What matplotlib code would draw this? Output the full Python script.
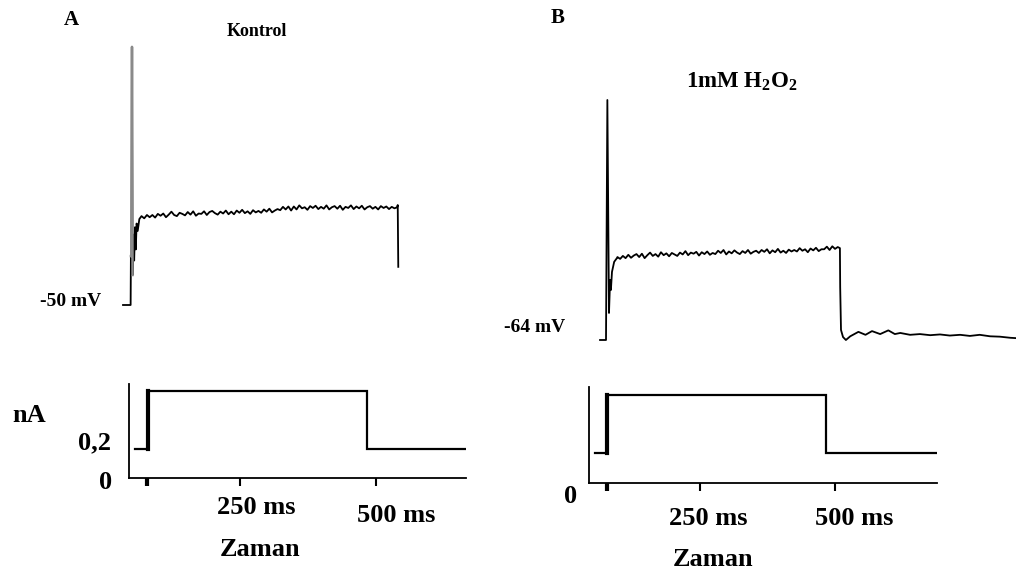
import numpy as np
import matplotlib
matplotlib.use("Agg")
import matplotlib.pyplot as plt
from matplotlib import transforms

plt.rcParams['font.family'] = 'Liberation Serif'
plt.rcParams['font.weight'] = 'bold'
plt.rcParams['mathtext.fontset'] = 'custom'
plt.rcParams['mathtext.rm'] = 'Liberation Serif:bold'
plt.rcParams['mathtext.it'] = 'Liberation Serif:bold'
plt.rcParams['mathtext.bf'] = 'Liberation Serif:bold'

# ---- voltage traces (ms, mV) ----
# A: control, resting -50 mV
a_onset_t = [0, 14, 14.5, 15.5, 16.5, 17.5, 19, 20.5, 22, 23.5, 25, 27, 30]
a_onset_v = [-50, -50, -36.8, -36.8, 19.7, -41.9, -31, -38, -29, -35, -28, -30, -26.8]
a_plat_t = list(range(34, 505, 5))
a_plat_v = [-26.0, -26.6, -25.7, -26.3, -25.7, -26.4, -25.4, -25.9, -25.3, -26.3,
            -25.6, -24.8, -25.7, -26.0, -25.1, -25.4, -25.8, -24.9, -25.6, -24.7,
            -25.9, -25.3, -25.4, -24.7, -25.7, -24.9, -24.6, -25.2, -25.6, -24.8,
            -25.3, -24.5, -25.5, -24.8, -25.5, -24.5, -25.1, -24.3, -25.2, -24.7,
            -25.4, -24.4, -25.0, -24.6, -25.1, -24.2, -24.8, -24.0, -25.0, -24.5,
            -24.1, -24.4, -23.5, -24.2, -23.4, -24.5, -23.4, -24.2, -23.1, -23.9,
            -23.6, -24.3, -23.3, -23.8, -23.2, -24.1, -23.5, -24.0, -23.1, -24.2,
            -23.6, -23.3, -24.0, -23.2, -24.3, -23.5, -23.8, -23.1, -24.1, -23.4,
            -23.9, -23.2, -24.2, -23.6, -23.3, -24.0, -23.5, -24.2, -23.3, -23.8,
            -23.4, -24.1, -23.5, -23.9, -23.6]
a_end_t = [505, 506]
a_end_v = [-23.0, -39.7]

# B: 1 mM H2O2, resting -64 mV
b_onset_t = [0, 11, 13.5, 16.5, 18.5, 20, 22, 26, 31]
b_onset_v = [-64, -64, 0.8, -56.7, -47.8, -50.5, -45.6, -42.9, -41.9]
b_plat_t = list(range(32, 441, 5))
b_plat_v = [-41.6, -42.1, -41.3, -41.9, -41.0, -41.8, -41.2, -40.8, -41.6, -40.7,
            -41.9, -41.1, -40.4, -41.3, -40.8, -41.5, -40.3, -41.1, -40.6, -41.4,
            -40.5, -40.9, -41.3, -40.4, -40.9, -40.0, -41.1, -40.4, -40.7, -40.2,
            -41.2, -40.3, -40.8, -40.1, -41.0, -40.5, -40.8, -39.9, -40.5, -39.7,
            -40.9, -40.1, -40.6, -39.8, -40.4, -40.8, -40.0, -40.5, -39.7, -40.7,
            -40.2, -39.9, -40.5, -39.7, -40.2, -39.5, -40.6, -39.8, -40.3, -39.4,
            -40.4, -39.9, -40.5, -39.6, -40.1, -39.7, -40.1, -39.2, -39.9, -39.5,
            -40.3, -39.3, -39.8, -39.1, -40.0, -39.5, -39.5, -38.8, -39.7, -38.7,
            -39.4, -38.9]
b_tail_t = [441, 441.5, 443, 446.7, 452, 460, 475, 488, 500, 515, 530, 542, 552, 570,
            588, 607, 625, 643, 662, 680, 698, 717, 735, 754, 765]
b_tail_v = [-39.2, -49.7, -61.3, -63.2, -64.0, -63.0, -61.8, -62.6, -61.6, -62.4, -61.4,
            -62.4, -62.1, -62.6, -62.4, -62.7, -62.5, -62.8, -62.6, -62.9, -62.6,
            -63.0, -63.1, -63.4, -63.5]

# ---- current step protocol (ms, nA) ----
a_step_t = [57, 80, 80, 483, 483, 665]
a_step_i = [0.2, 0.2, 0.6, 0.6, 0.2, 0.2]
b_step_t = [56, 78, 78, 483, 483, 689]
b_step_i = [0.2, 0.2, 0.59, 0.59, 0.2, 0.2]

a_ticks = [79, 250, 500]
b_ticks = [78, 250, 500]
tick_labels = ['', '250 ms', '500 ms']

W, H = 1016, 578
fig = plt.figure(figsize=(W / 100, H / 100), dpi=100)


def px_axes(x0, y0, x1, y1):
    return fig.add_axes([x0 / W, 1 - y1 / H, (x1 - x0) / W, (y1 - y0) / H])


# top traces
axA = px_axes(100, 30, 500, 330)
axA.plot(a_onset_t + a_plat_t + a_end_t, a_onset_v + a_plat_v + a_end_v,
         color='black', lw=1.3)
axA.plot(a_onset_t[2:6], a_onset_v[2:6], color='#8a8a8a', lw=1.8)
axA.set_xlim(-42.3, 693)
axA.set_ylim(-56.75, 24.25)
axA.axis('off')

axB = px_axes(580, 60, 1016, 360)
axB.plot(b_onset_t + b_plat_t + b_tail_t, b_onset_v + b_plat_v + b_tail_v,
         color='black', lw=1.3)
axB.set_xlim(-36.8, 764.7)
axB.set_ylim(-69.4, 11.6)
axB.axis('off')


def step_panel(ax, t, i, ticks, xlim, ylim, label_dx, label_y):
    ax.plot(t, i, color='black', lw=1.6, solid_joinstyle='miter')
    ax.plot(t[1:3], i[1:3], color='black', lw=3.0)
    ax.set_xlim(*xlim)
    ax.set_ylim(*ylim)
    for s in ['top', 'right']:
        ax.spines[s].set_visible(False)
    for s in ['left', 'bottom']:
        ax.spines[s].set_linewidth(1.3)
    ax.set_yticks([])
    ax.set_xticks(ticks)
    ax.set_xticklabels([])
    ax.tick_params(axis='x', direction='out', length=6, width=1.5)
    ax.xaxis.get_major_ticks()[0].tick1line.set_markeredgewidth(3)
    tr = transforms.blended_transform_factory(ax.transData, ax.transAxes)
    for tk, lab, dx, ly in zip(ticks, tick_labels, label_dx, label_y):
        if lab:
            ax.text(tk + dx, ly, lab, transform=tr, ha='center', va='center',
                    fontsize=19, fontweight='bold')


axAs = px_axes(129, 384, 466, 478)
step_panel(axAs, a_step_t, a_step_i, a_ticks, (46, 665), (0, 0.648),
           [0, 29, 37], [0, -0.309, -0.394])
ytr = transforms.blended_transform_factory(axAs.transAxes, axAs.transData)
axAs.text(-0.052, 0.24, '0,2', transform=ytr, ha='right', va='center', fontsize=19)
axAs.text(-0.05, -0.03, '0', transform=ytr, ha='right', va='center', fontsize=19)

axBs = px_axes(589, 387, 937, 483)
step_panel(axBs, b_step_t, b_step_i, b_ticks, (44, 689), (0, 0.64),
           [0, 15, 35], [0, -0.365, -0.365])
ytr = transforms.blended_transform_factory(axBs.transAxes, axBs.transData)
axBs.text(-0.035, -0.09, '0', transform=ytr, ha='right', va='center', fontsize=19)


def ftext(x, y, s, size):
    fig.text(x / W, 1 - y / H, s, ha='center', va='center', fontsize=size,
             fontweight='bold')


ftext(71, 20, 'A', 15)
ftext(257, 32, 'Kontrol', 13)
ftext(71, 302, '-50 mV', 14)
ftext(558, 18, 'B', 15)
ftext(742, 82, r'1mM H$_2$O$_2$', 16.5)
ftext(535, 327, '-64 mV', 14)
ftext(29, 415, 'nA', 19)
ftext(260, 550, 'Zaman', 19)
ftext(713, 560, 'Zaman', 19)

fig.savefig('out.png', dpi=100)
